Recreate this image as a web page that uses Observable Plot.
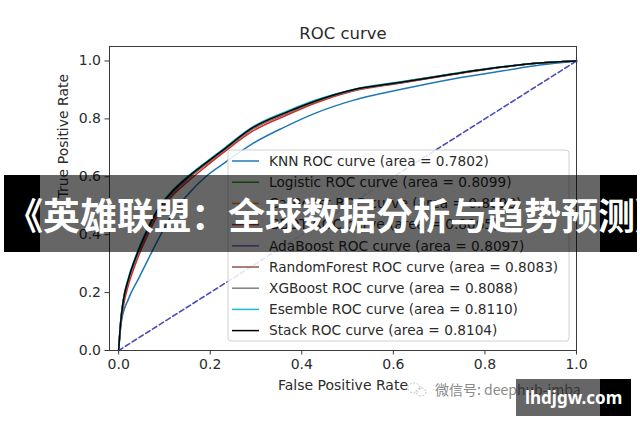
<!DOCTYPE html>
<html>
<head>
<meta charset="utf-8">
<script src="https://cdn.jsdelivr.net/npm/d3@7"></script>
<script src="https://cdn.jsdelivr.net/npm/@observablehq/plot@0.6"></script>
<style>
  html, body { margin: 0; padding: 0; background: white; }
  #chart { width: 640px; height: 426px; overflow: hidden; }
</style>
</head>
<body>
<div id="chart"></div>
<script>
// ---- Data ----
const models = ["KNN", "Logistic", "CatBoost", "GBDT", "AdaBoost", "RandomForest", "XGBoost", "Esemble", "Stack"];
const areas = ["0.7802", "0.8099", "0.8098", "0.8065", "0.8097", "0.8083", "0.8088", "0.8110", "0.8104"];
const colors = ["#1f77b4", "#2ca02c", "#ff7f0e", "#d62728", "#9467bd", "#8c564b", "#7f7f7f", "#17becf", "#000000"];

const fprKNN = [0, 0.006, 0.022, 0.044, 0.066, 0.092, 0.117, 0.152, 0.19, 0.233, 0.29, 0.36, 0.43, 0.51, 0.62, 0.73, 0.84, 0.92, 1.0];
const tprKNN = [0, 0.10, 0.18, 0.25, 0.32, 0.40, 0.47, 0.54, 0.60, 0.65, 0.712, 0.77, 0.82, 0.863, 0.903, 0.938, 0.966, 0.986, 1.0];

const fprGrid = [0, 0.004, 0.01, 0.022, 0.037, 0.058, 0.083, 0.112, 0.152, 0.19, 0.23, 0.29, 0.37, 0.43, 0.51, 0.62, 0.73, 0.84, 0.92, 1.0];
const tprLogistic     = [0, 0.09, 0.17, 0.25, 0.32, 0.40, 0.475, 0.54, 0.60, 0.648, 0.695, 0.768, 0.826, 0.863, 0.90, 0.928, 0.956, 0.98, 0.993, 1.0];
const tprCatBoost     = [0, 0.085, 0.165, 0.245, 0.315, 0.395, 0.475, 0.535, 0.597, 0.645, 0.693, 0.766, 0.825, 0.862, 0.899, 0.927, 0.955, 0.98, 0.993, 1.0];
const tprGBDT         = [0, 0.08, 0.15, 0.23, 0.30, 0.38, 0.46, 0.525, 0.585, 0.635, 0.685, 0.755, 0.815, 0.855, 0.895, 0.925, 0.953, 0.979, 0.993, 1.0];
const tprAdaBoost     = [0, 0.09, 0.17, 0.248, 0.318, 0.398, 0.476, 0.538, 0.598, 0.646, 0.694, 0.766, 0.824, 0.861, 0.899, 0.927, 0.955, 0.98, 0.993, 1.0];
const tprRandomForest = [0, 0.095, 0.172, 0.245, 0.31, 0.39, 0.468, 0.532, 0.594, 0.642, 0.69, 0.762, 0.82, 0.858, 0.897, 0.926, 0.954, 0.979, 0.993, 1.0];
const tprXGBoost      = [0, 0.088, 0.168, 0.246, 0.316, 0.396, 0.474, 0.536, 0.597, 0.645, 0.692, 0.765, 0.823, 0.861, 0.898, 0.927, 0.955, 0.98, 0.993, 1.0];
const tprEsemble      = [0, 0.095, 0.175, 0.255, 0.325, 0.405, 0.483, 0.544, 0.603, 0.65, 0.698, 0.77, 0.828, 0.865, 0.901, 0.929, 0.956, 0.981, 0.993, 1.0];
const tprStack        = [0, 0.09, 0.17, 0.25, 0.32, 0.40, 0.48, 0.54, 0.60, 0.647, 0.695, 0.767, 0.825, 0.862, 0.90, 0.927, 0.955, 0.98, 0.993, 1.0];

const diagX = [0, 1];
const diagY = [0, 1];
const ticks = [0, 0.2, 0.4, 0.6, 0.8, 1.0];

const title = "ROC curve";
const xLabel = "False Positive Rate";
const yLabel = "True Positive Rate";
const bannerText = "《英雄联盟：全球数据分析与趋势预测》";
const wechatText = "微信号: deephub-imba";
const siteText = "lhdjgw.com";

// ---- Build table ----
const seriesTpr = [tprKNN, tprLogistic, tprCatBoost, tprGBDT, tprAdaBoost, tprRandomForest, tprXGBoost, tprEsemble, tprStack];
const rows = [];
models.forEach((m, i) => {
  const fx = i === 0 ? fprKNN : fprGrid;
  seriesTpr[i].forEach((t, j) => rows.push({model: m, fpr: fx[j], tpr: t}));
});
const diag = diagX.map((x, i) => ({x, y: diagY[i]}));

const font = "'DejaVu Sans', sans-serif";
const textColor = "#2b2b2b";
const plot = Plot.plot({
  width: 640,
  height: 426,
  marginLeft: 109,
  marginRight: 64,
  marginTop: 46,
  marginBottom: 76,
  x: {domain: [-0.02, 1.0]},
  y: {domain: [0, 1.05]},
  color: {domain: models, range: colors},
  style: {fontFamily: font, fontSize: "14px", color: textColor, background: "white"},
  marks: [
    Plot.line(diag, {x: "x", y: "y", stroke: "#4a4ab8", strokeWidth: 1.6, strokeDasharray: "5,3"}),
    Plot.line(rows, {x: "fpr", y: "tpr", z: "model", stroke: "model", strokeWidth: 1.5, curve: "monotone-x"}),
    Plot.frame({stroke: "#3a3a3a", strokeWidth: 1}),
    Plot.axisX({ticks, tickFormat: d3.format(".1f"), tickSize: 4.5, tickPadding: 4, label: null, fontSize: 14, stroke: "#3a3a3a"}),
    Plot.axisY({ticks, tickFormat: d3.format(".1f"), tickSize: 4.5, tickPadding: 4, label: null, fontSize: 14, stroke: "#3a3a3a"}),
    Plot.text([title], {frameAnchor: "top", dy: -13, fontSize: 16.5, fill: textColor, lineAnchor: "middle"}),
    Plot.text([xLabel], {frameAnchor: "bottom", dy: 35, fontSize: 14, fill: textColor, lineAnchor: "middle"}),
    Plot.text([yLabel], {frameAnchor: "left", dx: -46, rotate: -90, fontSize: 14, fill: textColor, lineAnchor: "middle"})
  ]
});
document.getElementById("chart").appendChild(plot);

// ---- Legend (inside the axes, lower right) ----
const svg = d3.select(plot);
const lg = svg.append("g").attr("text-anchor", "start");
lg.append("rect").attr("x", 228).attr("y", 150).attr("width", 341).attr("height", 191)
  .attr("rx", 3).attr("fill", "white").attr("fill-opacity", 0.85).attr("stroke", "#d0d0d0");
models.forEach((m, i) => {
  const yy = 161 + i * 21.2;
  lg.append("line").attr("x1", 232).attr("x2", 259).attr("y1", yy).attr("y2", yy)
    .attr("stroke", colors[i]).attr("stroke-width", 1.5);
  lg.append("text").attr("x", 269).attr("y", yy).attr("dy", "0.35em").attr("text-anchor", "start")
    .attr("font-family", font).attr("font-size", 13.7).attr("fill", textColor)
    .text(`${m} ROC curve (area = ${areas[i]})`);
});

// ---- Banner overlay ----
const bn = svg.append("g").attr("text-anchor", "start");
bn.append("rect").attr("x", 4).attr("y", 175).attr("width", 36).attr("height", 77).attr("fill", "black");
bn.append("rect").attr("x", 40).attr("y", 175).attr("width", 560).attr("height", 77).attr("fill", "black").attr("fill-opacity", 0.6);
bn.append("rect").attr("x", 600).attr("y", 175).attr("width", 37).attr("height", 77).attr("fill", "black");
bn.append("text").attr("x", 6).attr("y", 217).attr("dy", "0.35em").attr("text-anchor", "start")
  .attr("font-family", "'Noto Sans CJK SC', sans-serif").attr("font-weight", 700)
  .attr("font-size", 37).attr("fill", "white").text(bannerText);

// ---- Watermarks ----
const wm = svg.append("g").attr("text-anchor", "start");
const icon = wm.append("g").attr("fill", "none").attr("stroke", "#b0b0b0").attr("stroke-width", 0.8).attr("stroke-dasharray", "2,1.5");
icon.append("ellipse").attr("cx", 414).attr("cy", 388).attr("rx", 6).attr("ry", 5);
icon.append("ellipse").attr("cx", 421).attr("cy", 392).attr("rx", 5).attr("ry", 4);
wm.append("text").attr("x", 435).attr("y", 390).attr("dy", "0.35em").attr("text-anchor", "start")
  .attr("font-family", "'Noto Sans CJK SC', sans-serif").attr("font-size", 14)
  .attr("fill", "#8a8a8a").text(wechatText);
wm.append("rect").attr("x", 516).attr("y", 379).attr("width", 84).attr("height", 37).attr("fill", "black").attr("fill-opacity", 0.6);
wm.append("rect").attr("x", 600).attr("y", 379).attr("width", 31).attr("height", 37).attr("fill", "black");
wm.append("text").attr("x", 525).attr("y", 398).attr("dy", "0.35em").attr("text-anchor", "start")
  .attr("font-family", "'Noto Sans', sans-serif").attr("font-weight", 700)
  .attr("font-size", 17).attr("fill", "white").text(siteText);
</script>
</body>
</html>
